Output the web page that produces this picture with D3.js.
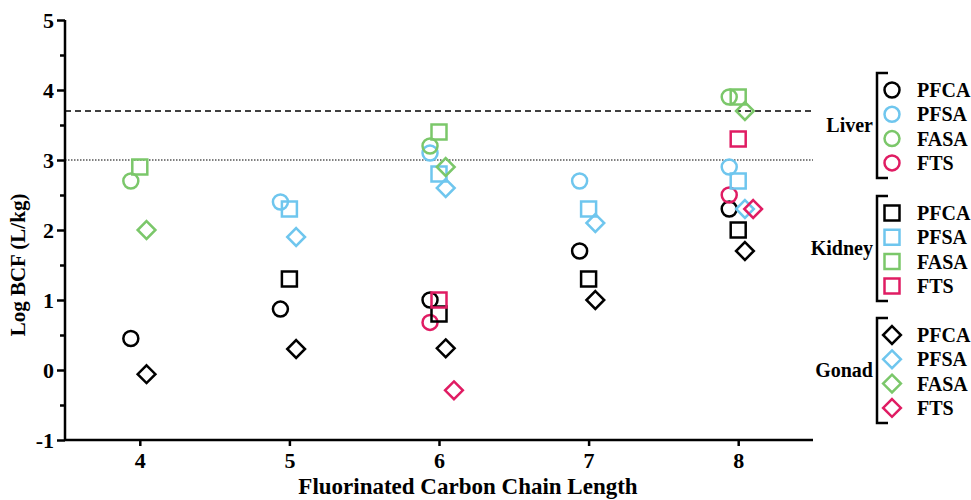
<!DOCTYPE html>
<html>
<head>
<meta charset="utf-8">
<script src="https://cdn.jsdelivr.net/npm/d3@7"></script>
<style>
  body { margin: 0; background: #fff; }
  svg text { font-family: "Liberation Serif", "Times New Roman", serif; font-weight: bold; }
</style>
</head>
<body>
<div id="chart"></div>
<script>
// chain lengths on the x axis
var chainLengths = [4, 5, 6, 7, 8];
var yTicks = [-1, 0, 1, 2, 3, 4, 5];
var classes = ['PFCA', 'PFSA', 'FASA', 'FTS'];
var tissues = ['Liver', 'Kidney', 'Gonad'];

// Log BCF values, one entry per chain length (null = not measured)
var liverPFCA  = [0.45, 0.87, 1.0, 1.7, 2.3];
var liverPFSA  = [null, 2.4, 3.1, 2.7, 2.9];
var liverFASA  = [2.7, null, 3.2, null, 3.9];
var liverFTS   = [null, null, 0.68, null, 2.5];

var kidneyPFCA = [null, 1.3, 0.8, 1.3, 2.0];
var kidneyPFSA = [null, 2.3, 2.8, 2.3, 2.7];
var kidneyFASA = [2.9, null, 3.4, null, 3.9];
var kidneyFTS  = [null, null, 1.0, null, 3.3];

var gonadPFCA  = [-0.06, 0.3, 0.31, 1.0, 1.7];
var gonadPFSA  = [null, 1.9, 2.6, 2.1, 2.3];
var gonadFASA  = [2.0, null, 2.9, null, 3.7];
var gonadFTS   = [null, null, -0.29, null, 2.3];

// reference thresholds
var dashedLine = 3.7;
var dottedLine = 3.0;

var seriesValues = {
    Liver:  { PFCA: liverPFCA,  PFSA: liverPFSA,  FASA: liverFASA,  FTS: liverFTS },
    Kidney: { PFCA: kidneyPFCA, PFSA: kidneyPFSA, FASA: kidneyFASA, FTS: kidneyFTS },
    Gonad:  { PFCA: gonadPFCA,  PFSA: gonadPFSA,  FASA: gonadFASA,  FTS: gonadFTS }
};

var colors = { PFCA: '#000000', PFSA: '#6fc6ee', FASA: '#7bc76a', FTS: '#e01c63' };
var shapes = { Liver: 'circle', Kidney: 'square', Gonad: 'diamond' };
// small horizontal nudge so the symbols don't sit on top of each other
var nudge  = { Liver: -0.06, Kidney: 0, Gonad: 0.045 };

var W = 971, H = 500;
var FONT = '"Liberation Serif", "Times New Roman", serif';
var svg = d3.select('#chart').append('svg')
    .attr('width', W).attr('height', H)
    .attr('font-family', FONT);

var x = d3.scaleLinear().domain([3.5, 8.5]).range([65, 813]);
var y = d3.scaleLinear().domain([-1, 5]).range([440, 20]);

function symbolPath(shape, s) {
    // s = half size
    if (shape === 'circle') {
        return 'M' + (-s) + ',0A' + s + ',' + s + ' 0 1,0 ' + s + ',0A' + s + ',' + s + ' 0 1,0 ' + (-s) + ',0Z';
    }
    if (shape === 'square') {
        return 'M' + (-s) + ',' + (-s) + 'H' + s + 'V' + s + 'H' + (-s) + 'Z';
    }
    var d = s * 1.2;
    return 'M0,' + (-d) + 'L' + d + ',0L0,' + d + 'L' + (-d) + ',0Z';
}
var symbolSize = { circle: 7.5, square: 7.5, diamond: 7.4 };

// reference lines
svg.append('line')
    .attr('x1', x(3.5)).attr('x2', x(8.5))
    .attr('y1', y(dashedLine)).attr('y2', y(dashedLine))
    .attr('stroke', '#000').attr('stroke-width', 1.5)
    .attr('stroke-dasharray', '6,4');
svg.append('line')
    .attr('x1', x(3.5)).attr('x2', x(8.5))
    .attr('y1', y(dottedLine)).attr('y2', y(dottedLine))
    .attr('stroke', '#000').attr('stroke-width', 1.2)
    .attr('stroke-dasharray', '1.5,1.5');

// y axis, major and minor ticks
var yAxis = svg.append('g')
    .attr('transform', 'translate(' + x(3.5) + ',0)')
    .call(d3.axisLeft(y).tickValues(yTicks).tickSize(8).tickFormat(d3.format('d')));
svg.append('g')
    .attr('transform', 'translate(' + x(3.5) + ',0)')
    .call(d3.axisLeft(y).tickValues([-0.5, 0.5, 1.5, 2.5, 3.5, 4.5]).tickSize(5).tickFormat(''))
    .call(function (g) { g.select('.domain').remove(); })
    .selectAll('line').attr('stroke-width', 2.5);

yAxis.select('.domain').attr('d', 'M0,' + y(5) + 'V' + y(-1)).attr('stroke-width', 2.5);
yAxis.selectAll('.tick line').attr('stroke-width', 2.5);
yAxis.selectAll('.tick text')
    .attr('font-family', FONT).attr('font-weight', 'bold')
    .attr('font-size', 22).attr('fill', '#000').attr('x', -11).attr('dy', '0.34em')
    .text(function (d) { return d < 0 ? '-' + Math.abs(d) : d; });

// x axis
var xAxis = svg.append('g')
    .attr('transform', 'translate(0,' + y(-1) + ')')
    .call(d3.axisBottom(x).tickValues(chainLengths).tickSize(6).tickFormat(d3.format('d')));
xAxis.select('.domain').attr('d', 'M' + x(3.5) + ',0H' + x(8.5)).attr('stroke-width', 2.5);
xAxis.selectAll('.tick line').attr('stroke-width', 2.5);
xAxis.selectAll('.tick text')
    .attr('font-family', FONT).attr('font-weight', 'bold')
    .attr('font-size', 22).attr('fill', '#000').attr('y', 12);

// axis titles
svg.append('text')
    .attr('transform', 'translate(25,' + y(1.5) + ') rotate(-90)')
    .attr('text-anchor', 'middle')
    .attr('font-size', 21)
    .text('Log BCF (L/kg)');
svg.append('text')
    .attr('x', 468).attr('y', 494)
    .attr('text-anchor', 'middle')
    .attr('font-size', 23)
    .text('Fluorinated Carbon Chain Length');

// points
var points = [];
tissues.forEach(function (t) {
    classes.forEach(function (c) {
        seriesValues[t][c].forEach(function (v, i) {
            if (v === null) return;
            var off = nudge[t];
            if (t === 'Gonad' && c === 'FTS') off = 0.1;
            points.push({ tissue: t, cls: c, x: chainLengths[i] + off, v: v });
        });
    });
});

svg.append('g').selectAll('path')
    .data(points)
    .enter()
    .append('path')
    .attr('transform', function (d) { return 'translate(' + x(d.x) + ',' + y(d.v) + ')'; })
    .attr('d', function (d) { var s = shapes[d.tissue]; return symbolPath(s, symbolSize[s]); })
    .attr('fill', 'none')
    .attr('stroke', function (d) { return colors[d.cls]; })
    .attr('stroke-width', 2.5);

// legend
var legendTop = { Liver: 90, Kidney: 213, Gonad: 335 };
var legend = svg.append('g');
tissues.forEach(function (t) {
    var top = legendTop[t];
    var rows = classes.map(function (c, i) { return { cls: c, y: top + i * 24.3 }; });
    var y0 = top - 17, y1 = top + 3 * 24.3 + 15;
    legend.append('path')
        .attr('d', 'M888,' + y0 + 'H877V' + y1 + 'H888')
        .attr('fill', 'none').attr('stroke', '#000').attr('stroke-width', 2.5);
    legend.append('text')
        .attr('x', 873).attr('y', (y0 + y1) / 2)
        .attr('dy', '0.35em')
        .attr('text-anchor', 'end')
        .attr('font-size', 20)
        .text(t);
    var g = legend.selectAll('g.row-' + t).data(rows).enter().append('g')
        .attr('transform', function (d) { return 'translate(892,' + d.y + ')'; });
    g.append('path')
        .attr('d', function () { var s = shapes[t]; return symbolPath(s, symbolSize[s]); })
        .attr('fill', 'none')
        .attr('stroke', function (d) { return colors[d.cls]; })
        .attr('stroke-width', 2.5);
    g.append('text')
        .attr('x', 25).attr('dy', '0.35em')
        .attr('font-size', 20)
        .text(function (d) { return d.cls; });
});
</script>
</body>
</html>
